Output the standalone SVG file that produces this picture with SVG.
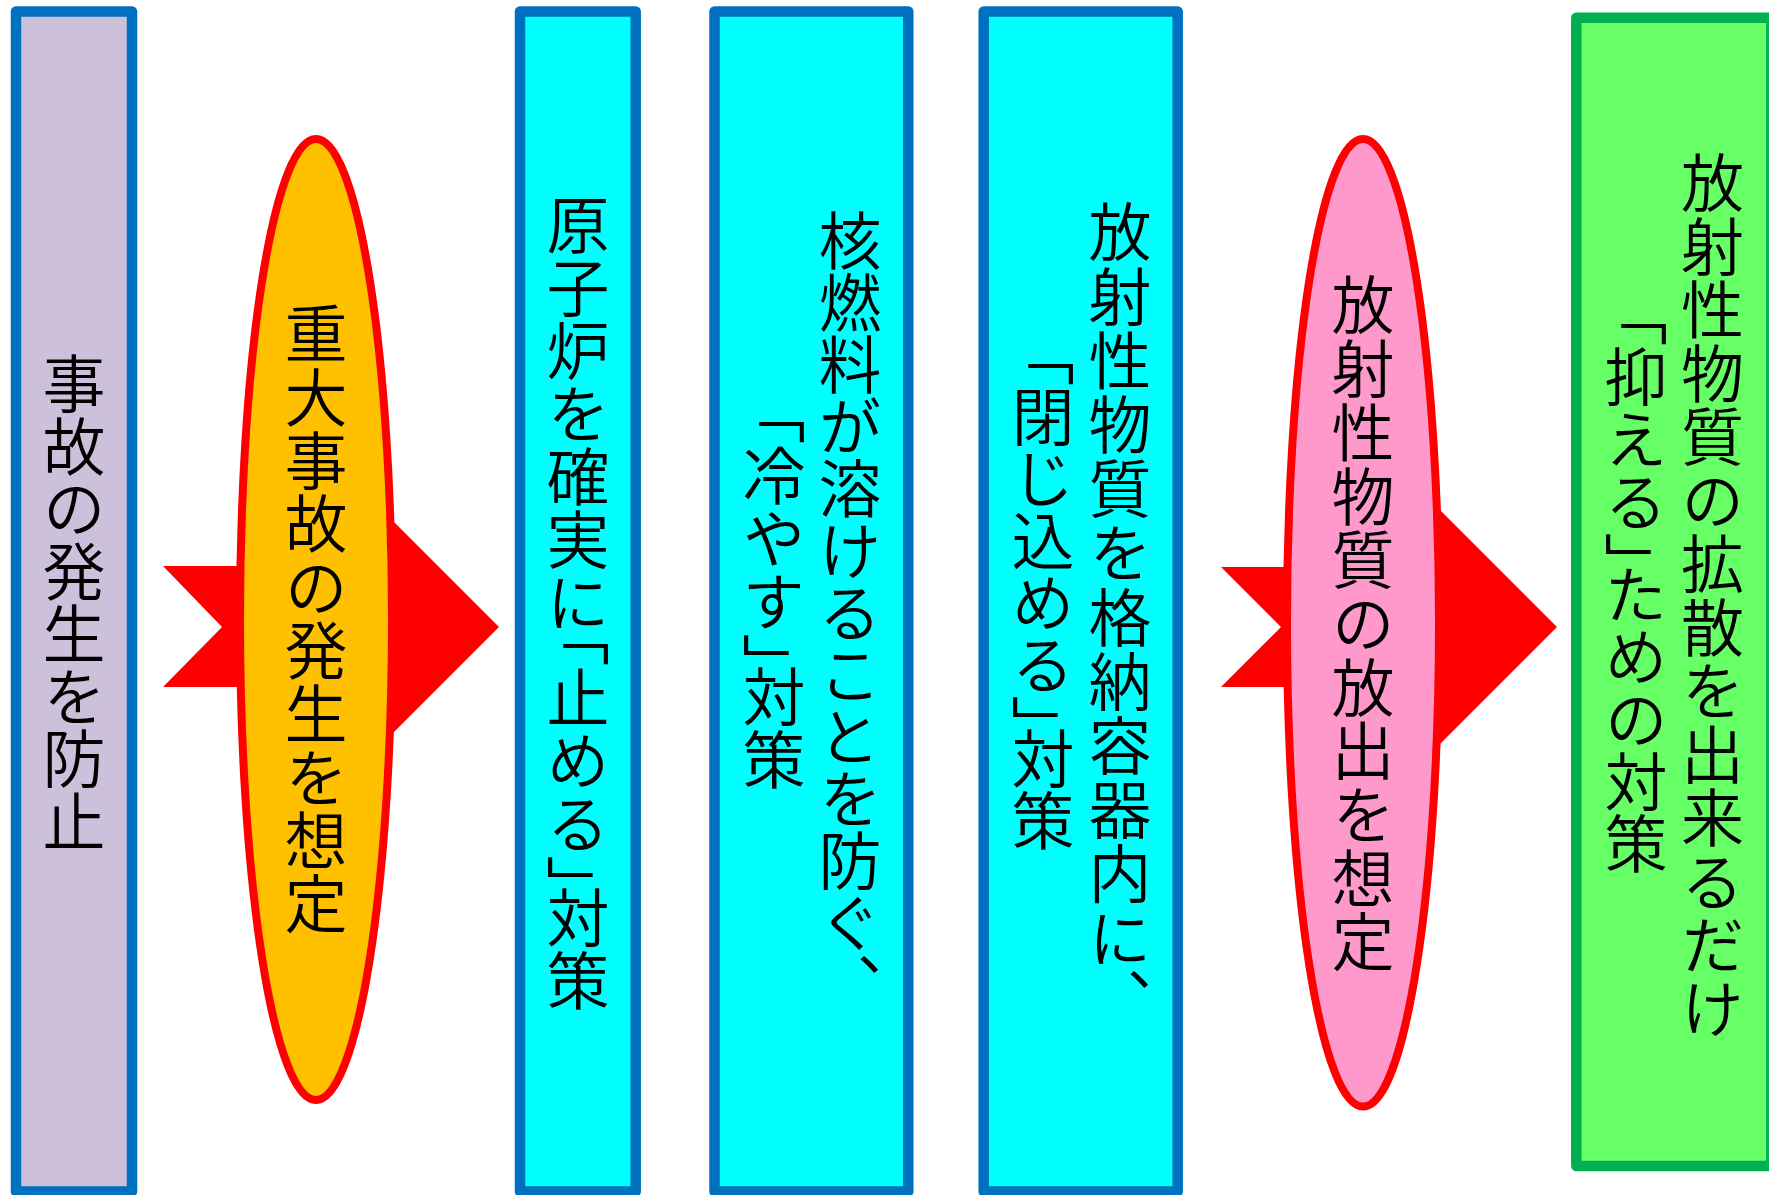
<svg xmlns="http://www.w3.org/2000/svg" width="1769" height="1195" viewBox="0 0 1769 1195">
<style>
.box{stroke:#0070C0;stroke-width:10.5;stroke-linejoin:round}
.cyan{fill:#00FFFF}
.ell{stroke:#FF0000;stroke-width:8}
.arrow{fill:#FF0000;stroke:none}
.t{font-family:"Noto Sans CJK JP","Noto Sans CJK SC",sans-serif;font-size:63px;font-weight:350;fill:#000;writing-mode:vertical-rl}
</style>
<rect width="1769" height="1195" fill="#FFFFFF"/>
<g id="node-prevent">
<rect class="box" x="16" y="11.5" width="116" height="1180" fill="#CCC0DA"/>
<text class="t" x="74" y="352 414.5 477 539.5 602 664.5 727 789.5">事故の発生を防止</text>
</g>
<g id="connectors">
<polygon class="arrow" points="163,566 380,566 380,508 499,627 380,746 380,687 163,687 222,627"/>
<polygon class="arrow" points="1221,567 1430,567 1430,500 1557,627 1430,754 1430,687 1221,687 1281,627"/>
</g>
<g id="node-severe">
<ellipse class="ell" cx="316" cy="619.5" rx="76" ry="480.5" fill="#FFC000"/>
<text class="t" x="316" y="302 365.3 428.6 491.9 555.2 618.5 681.8 745.1 808.4 871.7">重大事故の発生を想定</text>
</g>
<g id="node-stop">
<rect class="box cyan" x="520" y="11.5" width="115.7" height="1180"/>
<text class="t" x="578" y="193 256 319 382 445 508 571 602.5 665.5 728.5 791.5 854.5 886 949">原子炉を確実に「止める」対策</text>
</g>
<g id="node-cool">
<rect class="box cyan" x="714.5" y="11.5" width="193.8" height="1180"/>
<text class="t" x="850" y="209 271 333 395 457 519 581 643 705 767 829 891 953">核燃料が溶けることを防ぐ、</text>
<text class="t" x="774" y="381 444 507 570 633 664.5 727.5">「冷やす」対策</text>
</g>
<g id="node-contain">
<rect class="box cyan" x="983.7" y="11.5" width="194" height="1180"/>
<text class="t" x="1120" y="200 264.2 328.4 392.6 456.8 521 585.2 649.4 713.6 777.8 842 906.2 968">放射性物質を格納容器内に、</text>
<text class="t" x="1043" y="323 385 447 509 571 633 695 727 789">「閉じ込める」対策</text>
</g>
<g id="node-release">
<ellipse class="ell" cx="1363" cy="622.8" rx="76" ry="483.8" fill="#FF99CC"/>
<text class="t" x="1363" y="273 336.7 400.4 464.1 527.8 591.5 655.2 718.9 782.6 846.3 910">放射性物質の放出を想定</text>
</g>
<g id="node-suppress">
<rect x="1576.3" y="17.8" width="195" height="1148.2" fill="#66FF66" stroke="#00B050" stroke-width="10.5" stroke-linejoin="round"/>
<text class="t" x="1712.5" y="151 214.5 278 341.5 405 468.5 532 595.5 659 722.5 786 849.5 913 976.5">放射性物質の拡散を出来るだけ</text>
<text class="t" x="1636" y="282.8 345 407.2 469.4 531.6 562.7 624.9 687.1 749.3 811.5">「抑える」ための対策</text>
</g>
</svg>
